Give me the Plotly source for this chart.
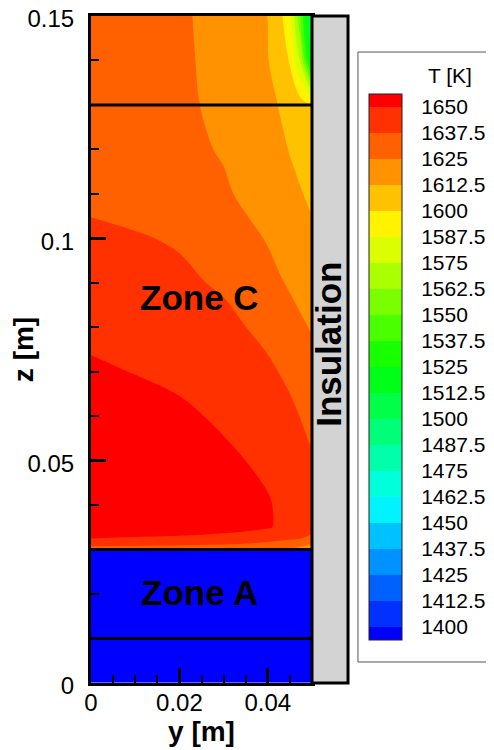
import plotly.graph_objects as go

# ---------------- data ----------------
# grid nodes (m)
Y_NODES = [0.0, 0.01, 0.02, 0.03, 0.04, 0.0425, 0.045, 0.0475, 0.05]
Z_NODES = [0.03, 0.0325, 0.035, 0.04, 0.05, 0.06, 0.07, 0.08, 0.09,
           0.10, 0.11, 0.12, 0.13, 0.14, 0.15]

# temperature [K] in zone C and the zone above it (rows follow Z_NODES)
T_ROW_030 = [1632, 1631.5, 1631, 1630, 1628, 1626.5, 1624, 1620, 1615]
T_ROW_0325 = [1650, 1649, 1648, 1646.5, 1642, 1640.5, 1639, 1637.5, 1636]
T_ROW_035 = [1658, 1657, 1656, 1654, 1651, 1648.5, 1645, 1642.5, 1640]
T_ROW_040 = [1660, 1659, 1657.5, 1655.5, 1651, 1648.5, 1646, 1643.5, 1641]
T_ROW_050 = [1658, 1657, 1655, 1652.5, 1647.5, 1645, 1643, 1640.5, 1638.5]
T_ROW_060 = [1655, 1654, 1652.5, 1648, 1642.5, 1641, 1639.5, 1637.2, 1634.2]
T_ROW_070 = [1651.5, 1649.7, 1647, 1643.5, 1639, 1637.4, 1635.5, 1632.5, 1629.2]
T_ROW_080 = [1647.5, 1645.5, 1643, 1640, 1635.1, 1632, 1629, 1626.5, 1624.2]
T_ROW_090 = [1643.4, 1641.5, 1639.3, 1636.3, 1629, 1626.2, 1623.8, 1621.6, 1619.4]
T_ROW_100 = [1639.3, 1638.2, 1636.6, 1632.5, 1624.1, 1621.5, 1619, 1616.8, 1614.6]
T_ROW_110 = [1635.5, 1634, 1631, 1627, 1618, 1615.8, 1614.2, 1613, 1610.5]
T_ROW_120 = [1633.5, 1632, 1629, 1623.8, 1615.5, 1614, 1612.2, 1609.5, 1606.7]
T_ROW_130 = [1631, 1629.5, 1628, 1621.5, 1614.5, 1612.3, 1609, 1605, 1600]
T_ROW_140 = [1631.5, 1629.5, 1627.5, 1620.6, 1613, 1607, 1599, 1572, 1508]
T_ROW_150 = [1632, 1629.5, 1627, 1620.2, 1612.4, 1604.8, 1590, 1548, 1492]

T_ZONE_C = [T_ROW_030, T_ROW_0325, T_ROW_035, T_ROW_040, T_ROW_050, T_ROW_060,
            T_ROW_070, T_ROW_080, T_ROW_090, T_ROW_100, T_ROW_110, T_ROW_120,
            T_ROW_130, T_ROW_140, T_ROW_150]

# zone A (below z = 0.03) is uniformly below 1400 K
ZONE_A_Y = [0.0, 0.05]
ZONE_A_Z = [0.0, 0.03]
ZONE_A_T = [[1395]]

ZONE_BOUNDS = [0.01, 0.03, 0.13]

# colour legend levels
T_START, T_END, T_STEP = 1400, 1650, 12.5
LEVELS = [1400, 1412.5, 1425, 1437.5, 1450, 1462.5, 1475, 1487.5, 1500,
          1512.5, 1525, 1537.5, 1550, 1562.5, 1575, 1587.5, 1600, 1612.5,
          1625, 1637.5, 1650]
LEVEL_LABELS = ["1400", "1412.5", "1425", "1437.5", "1450", "1462.5", "1475",
                "1487.5", "1500", "1512.5", "1525", "1537.5", "1550", "1562.5",
                "1575", "1587.5", "1600", "1612.5", "1625", "1637.5", "1650"]

# band colours, lowest (below 1400) to highest (above 1650)
BAND_COLORS = ["#0000FF", "#0031FF", "#0061FF", "#0092FF", "#00C2FF", "#00F3FF",
               "#00FFDB", "#00FFAA", "#00FF79", "#00FF49", "#00FF18", "#18FF00",
               "#49FF00", "#79FF00", "#AAFF00", "#DBFF00", "#FFF300", "#FFC200",
               "#FF9200", "#FF6100", "#FF3100", "#FF0000"]

Y_TICKS = [0, 0.02, 0.04]
Y_TICK_TEXT = ["0", "0.02", "0.04"]
Z_TICKS = [0, 0.05, 0.1, 0.15]
Z_TICK_TEXT = ["0", "0.05", "0.1", "0.15"]

# ---------------- figure ----------------
# stepped colour scale: half bands at both ends, full bands between levels
Z_LO = T_START - T_STEP / 2
Z_HI = T_END + T_STEP / 2
span = Z_HI - Z_LO
edges = [Z_LO] + LEVELS + [Z_HI]
colorscale = []
for i, c in enumerate(BAND_COLORS):
    colorscale.append([(edges[i] - Z_LO) / span, c])
    colorscale.append([(edges[i + 1] - Z_LO) / span, c])

FONT = "Liberation Sans, Arial, sans-serif"

fig = go.Figure()

fig.add_trace(go.Contour(
    x=Y_NODES, y=Z_NODES, z=T_ZONE_C,
    colorscale=colorscale, zmin=Z_LO, zmax=Z_HI,
    autocontour=False,
    contours=dict(start=T_START, end=T_END, size=T_STEP,
                  coloring="fill", showlines=False),
    line=dict(width=0),
    showscale=False,
))

fig.add_trace(go.Heatmap(
    x=ZONE_A_Y, y=ZONE_A_Z, z=ZONE_A_T,
    colorscale=colorscale, zmin=Z_LO, zmax=Z_HI,
    hoverinfo="skip",
    colorbar=dict(
        tickvals=LEVELS, ticktext=LEVEL_LABELS,
        tickfont=dict(family=FONT, size=21, color="black"),
        ticks="outside", ticklen=15, tickcolor="rgba(0,0,0,0)",
        thickness=33, thicknessmode="pixels",
        len=546, lenmode="pixels",
        x=1.258, xanchor="left", y=0.883, yanchor="top",
        xpad=0, ypad=0,
        outlinewidth=1, outlinecolor="#222",
        borderwidth=0,
    ),
))

shapes = []
for zb in ZONE_BOUNDS:
    shapes.append(dict(type="line", xref="x", yref="y", x0=0, x1=0.05, y0=zb, y1=zb,
                       line=dict(color="black", width=3)))
# insulation block to the right of the domain
shapes.append(dict(type="rect", xref="x domain", yref="y domain",
                   x0=1.0, x1=1.163, y0=0, y1=1,
                   fillcolor="#D3D3D3", line=dict(color="black", width=3)))
# legend frame
shapes.append(dict(type="rect", xref="paper", yref="paper",
                   x0=1.208, x1=1.95, y0=0.0315, y1=0.946,
                   fillcolor="rgba(0,0,0,0)", line=dict(color="#555", width=1)))

annotations = [
    dict(text="Zone C", x=0.0245, y=0.0868, xref="x", yref="y", showarrow=False,
         xanchor="center", yanchor="middle",
         font=dict(family=FONT, size=35, color="black", weight="bold")),
    dict(text="Zone A", x=0.0245, y=0.0203, xref="x", yref="y", showarrow=False,
         xanchor="center", yanchor="middle",
         font=dict(family=FONT, size=35, color="black", weight="bold")),
    dict(text="Insulation", x=1.077, y=0.507, xref="x domain", yref="y domain",
         showarrow=False, textangle=-90, xanchor="center", yanchor="middle",
         font=dict(family=FONT, size=35, color="black", weight="bold")),
    dict(text="T [K]", x=1.624, y=0.9115, xref="paper", yref="paper",
         showarrow=False, xanchor="center", yanchor="middle",
         font=dict(family=FONT, size=21, color="black")),
]

fig.update_layout(
    width=486, height=742,
    margin=dict(l=83, r=182, t=8, b=67, autoexpand=False),
    paper_bgcolor="white", plot_bgcolor="white",
    shapes=shapes, annotations=annotations,
    showlegend=False,
    xaxis=dict(
        range=[0, 0.05], tickvals=Y_TICKS, ticktext=Y_TICK_TEXT,
        ticks="inside", ticklen=15, tickwidth=3, tickcolor="black",
        minor=dict(dtick=0.005, ticks="inside", ticklen=8, tickwidth=1.5, tickcolor="black"),
        showline=True, linewidth=3, linecolor="black", mirror=True,
        showgrid=False, zeroline=False,
        tickfont=dict(family=FONT, size=24, color="black"),
        ticklabelstandoff=-4, ticklabeloverflow="allow",
        title=dict(text="y [m]", standoff=0,
                   font=dict(family=FONT, size=28, color="black", weight="bold")),
    ),
    yaxis=dict(
        range=[0, 0.15], tickvals=Z_TICKS, ticktext=Z_TICK_TEXT,
        ticks="inside", ticklen=15, tickwidth=3, tickcolor="black",
        minor=dict(dtick=0.01, ticks="inside", ticklen=8, tickwidth=1.5, tickcolor="black"),
        showline=True, linewidth=3, linecolor="black", mirror=True,
        showgrid=False, zeroline=False,
        tickfont=dict(family=FONT, size=24, color="black"),
        ticklabelstandoff=9, ticklabelshift=3, ticklabeloverflow="allow",
        title=dict(text="z [m]", standoff=0,
                   font=dict(family=FONT, size=28, color="black", weight="bold")),
    ),
)

fig.write_html("out.html")
